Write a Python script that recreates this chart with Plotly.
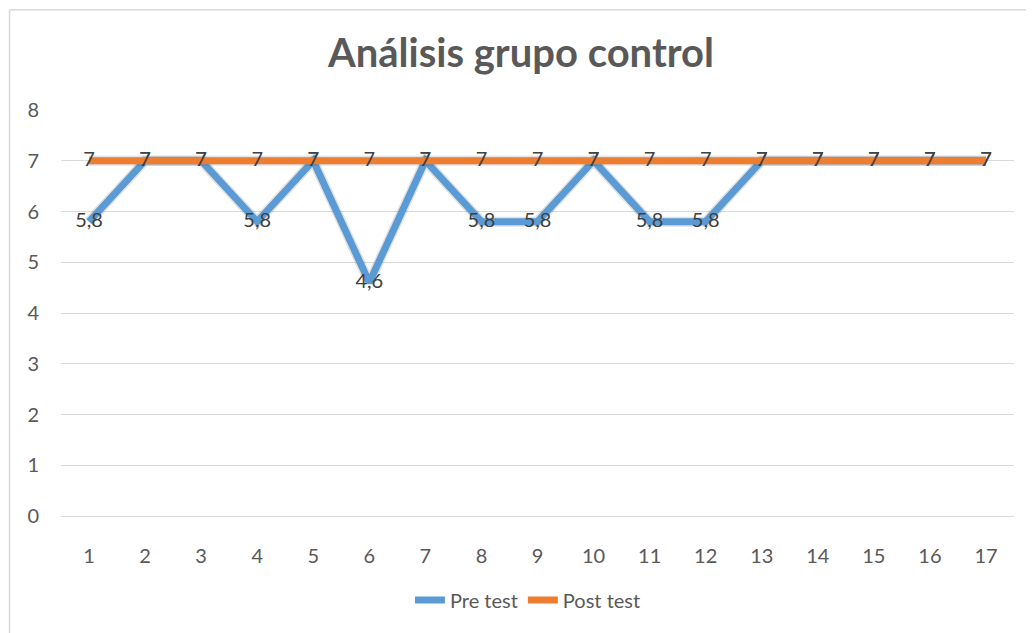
import plotly.graph_objects as go

sessions = list(range(1, 18))
pre_test = [5.8, 7, 7, 5.8, 7, 4.6, 7, 5.8, 5.8, 7, 5.8, 5.8, 7, 7, 7, 7, 7]
post_test = [7] * 17
y_ticks = [0, 1, 2, 3, 4, 5, 6, 7, 8]

FONT = "Lato, Carlito, sans-serif"


def fmt(v):
    # decimal comma, as in the original
    return f"{v:g}".replace(".", ",")


fig = go.Figure()

series = [
    ("Pre test", pre_test, "#5B9BD5"),
    ("Post test", post_test, "#ED7D31"),
]
for name, vals, color in series:
    # soft shadow under the line
    fig.add_trace(go.Scatter(
        x=sessions, y=vals, mode="lines",
        line=dict(color="rgba(40,40,40,0.14)", width=10),
        showlegend=False, hoverinfo="skip",
    ))
    fig.add_trace(go.Scatter(
        x=sessions, y=vals,
        mode="lines+text",
        name=name,
        text=[fmt(v) for v in vals],
        textposition="middle center",
        textfont=dict(family=FONT, size=20, color="#404040"),
        line=dict(color=color, width=7),
    ))

fig.update_xaxes(
    range=[0.5, 17.5], tickmode="array", tickvals=sessions,
    ticktext=[str(s) for s in sessions],
    showgrid=False, showline=True, linecolor="#D9D9D9", linewidth=1,
    zeroline=False, ticks="", ticklabelstandoff=22,
    tickfont=dict(family=FONT, size=20, color="#595959"),
)
fig.update_yaxes(
    range=[0, 8], tickmode="array", tickvals=y_ticks,
    showgrid=True, gridcolor="#D9D9D9", gridwidth=1,
    zeroline=False, showline=False, ticks="", ticklabelstandoff=21,
    tickfont=dict(family=FONT, size=20, color="#595959"),
)

# outer chart border (left and top visible in the picture)
fig.add_shape(type="line", xref="paper", yref="paper",
              x0=-0.054, x1=-0.054, y0=-0.4, y1=1.247,
              line=dict(color="#D9D9D9", width=1.5))
fig.add_shape(type="line", xref="paper", yref="paper",
              x0=-0.054, x1=1.1, y0=1.247, y1=1.247,
              line=dict(color="#D9D9D9", width=1.5))

fig.update_layout(
    width=1026, height=625,
    paper_bgcolor="white", plot_bgcolor="white",
    margin=dict(l=53, r=20, t=102, b=117),
    title=dict(
        text="<b>Análisis grupo control</b>",
        x=0.5, xanchor="center", y=1 - 45 / 625, yanchor="middle",
        font=dict(family=FONT, size=40, color="#595959"),
    ),
    showlegend=True,
    legend=dict(
        orientation="h", x=0.49, xanchor="center", y=-0.207, yanchor="middle",
        font=dict(family=FONT, size=20, color="#595959"),
        tracegroupgap=0,
    ),
)

fig.write_html("out.html")
